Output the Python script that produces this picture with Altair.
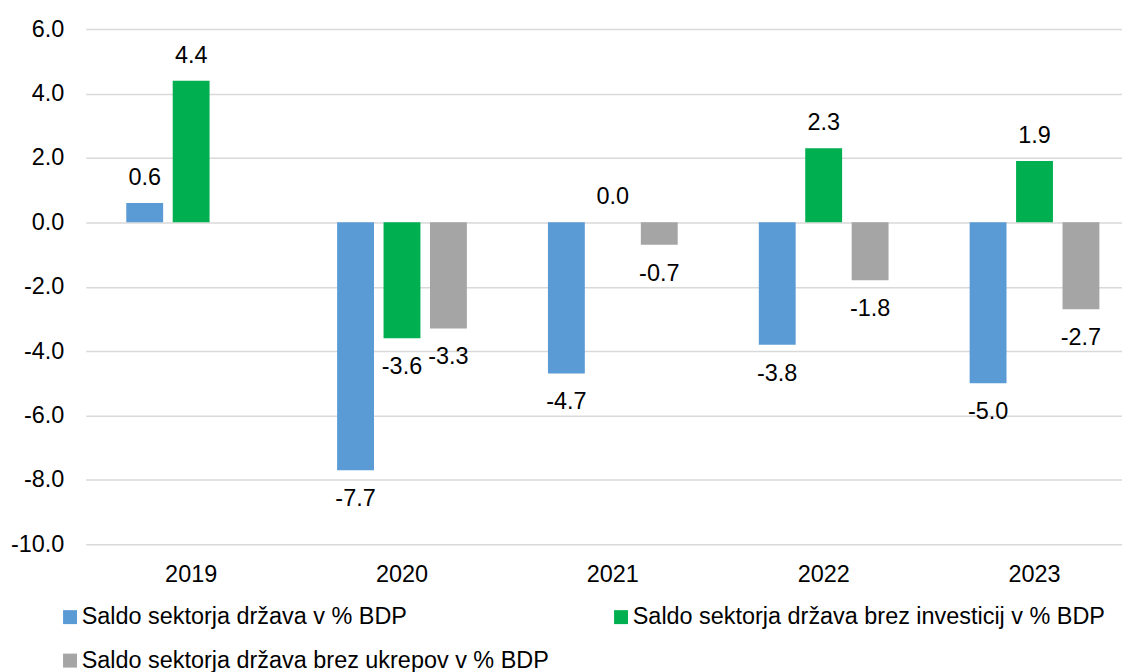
import altair as alt
import pandas as pd

years = ["2019", "2020", "2021", "2022", "2023"]
series = [
    "Saldo sektorja država v % BDP",
    "Saldo sektorja država brez investicij v % BDP",
    "Saldo sektorja država brez ukrepov v % BDP",
]
saldo = [0.6, -7.7, -4.7, -3.8, -5.0]
brez_investicij = [4.4, -3.6, 0.0, 2.3, 1.9]
brez_ukrepov = [None, -3.3, -0.7, -1.8, -2.7]
colors = ["#5B9BD5", "#00B050", "#A5A5A5"]
y_ticks = [-10, -8, -6, -4, -2, 0, 2, 4, 6]

rows = []
for s, vals in zip(series, [saldo, brez_investicij, brez_ukrepov]):
    for y, v in zip(years, vals):
        if v is not None:
            rows.append({"year": y, "series": s, "value": v, "label": f"{v:.1f}"})
df = pd.DataFrame(rows)

FONT = "Liberation Sans"
FS = 23.5

x_enc = alt.X("year:N", sort=years,
              scale=alt.Scale(range=[0, 1058], paddingInner=0, paddingOuter=0),
              axis=alt.Axis(title=None, labelAngle=0, domain=False, ticks=False,
                            labelFontSize=FS, labelFont=FONT, labelColor="#000000",
                            labelPadding=18))
xo_enc = alt.XOffset("series:N", sort=series,
                     scale=alt.Scale(domain=series, paddingInner=0.206, paddingOuter=0.873))
y_enc = alt.Y("value:Q",
              scale=alt.Scale(domain=[-10, 6], nice=False, zero=False),
              axis=alt.Axis(title=None, values=y_ticks,
                            labelExpr="replace(format(datum.value, '.1f'), '−', '-')",
                            domain=False, ticks=False, tickSize=0,
                            labelFontSize=FS, labelFont=FONT,
                            labelColor="#000000", labelPadding=22,
                            gridColor="#D9D9D9", gridWidth=1.5))

base = alt.Chart(df)

bars = base.mark_bar().encode(
    x=x_enc,
    xOffset=xo_enc,
    y=y_enc,
    color=alt.Color("series:N", sort=series,
                    scale=alt.Scale(domain=series, range=colors),
                    legend=alt.Legend(title=None, orient="none", legendX=-27.5, legendY=578,
                                      direction="horizontal", columns=2,
                                      columnPadding=60, rowPadding=19,
                                      symbolType="square", symbolSize=196,
                                      symbolStrokeWidth=0, symbolOpacity=1,
                                      labelFontSize=FS, labelFont=FONT,
                                      labelColor="#000000", labelOffset=0,
                                      labelLimit=1000, padding=0)),
)

pos_text = base.transform_filter("datum.value >= 0").mark_text(
    dy=-25, baseline="middle", fontSize=FS, font=FONT, color="#000000"
).encode(x=x_enc, xOffset=xo_enc, y=y_enc, text="label:N")

neg_text = base.transform_filter("datum.value < 0").mark_text(
    dy=29, baseline="middle", fontSize=FS, font=FONT, color="#000000"
).encode(x=x_enc, xOffset=xo_enc, y=y_enc, text="label:N")

chart = alt.layer(bars, pos_text, neg_text).properties(
    width=1040, height=517,
    autosize=alt.AutoSizeParams(type="none"),
    padding={"left": 78, "top": 20, "right": 0, "bottom": 127},
).configure_view(stroke=None)

chart.save("out.html", embed_options={"renderer": "svg", "actions": False})
